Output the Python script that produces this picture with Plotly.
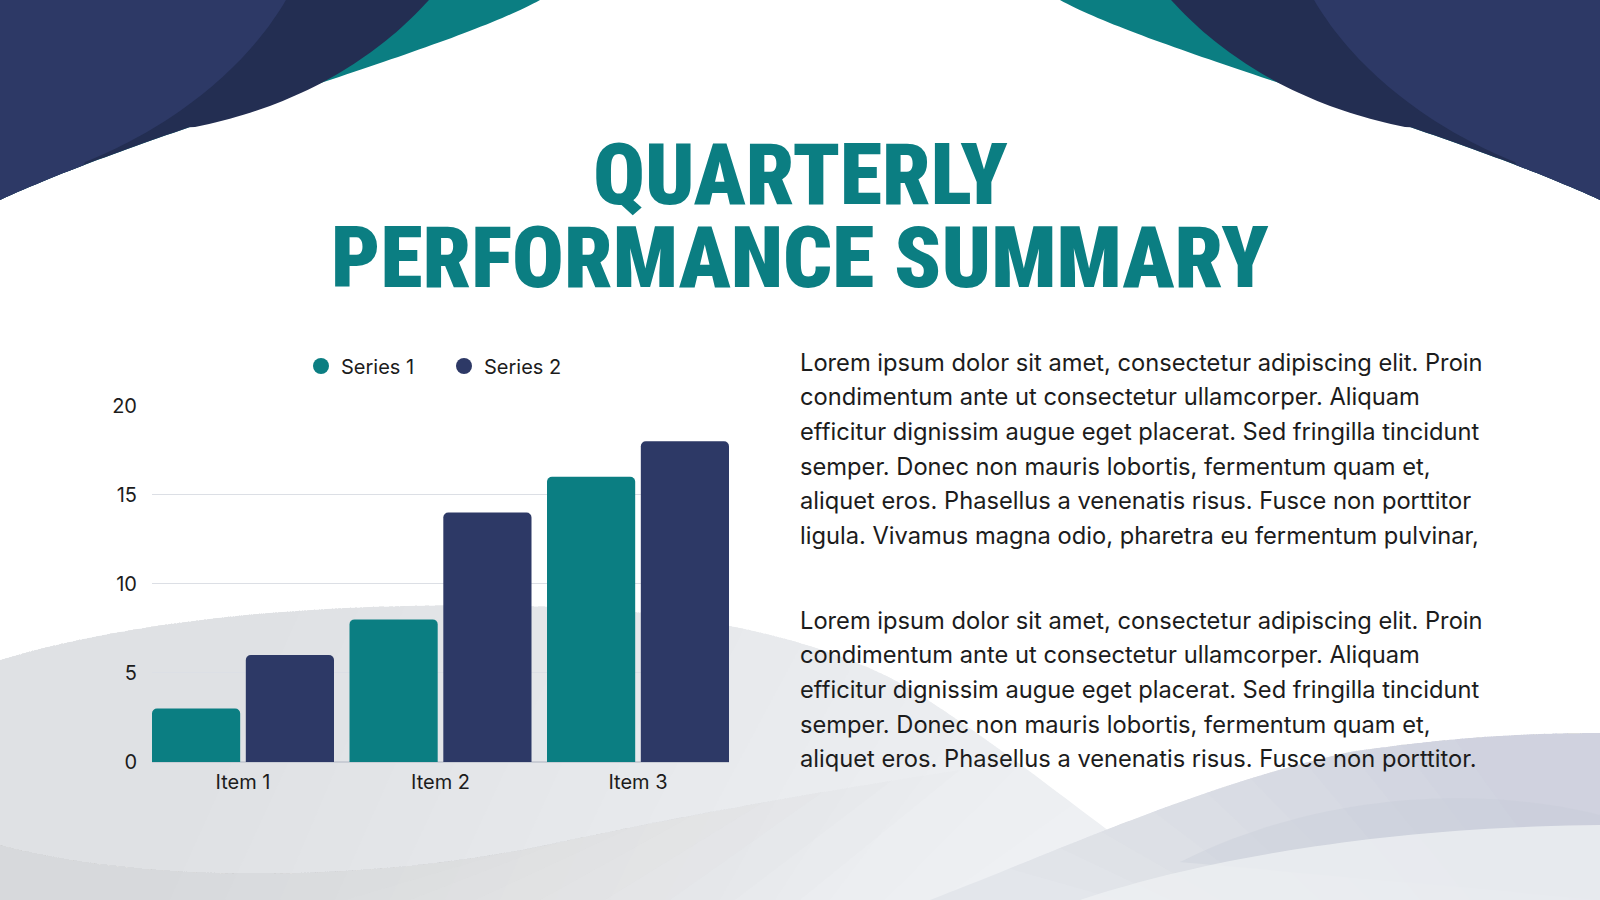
import plotly.graph_objects as go

# Chart data
items = ['Item 1', 'Item 2', 'Item 3']
series_1 = [3, 8, 16]
series_2 = [6, 14, 18]
series_names = ['Series 1', 'Series 2']
y_ticks = [0, 5, 10, 15, 20]

title_lines = ['QUARTERLY', 'PERFORMANCE SUMMARY']
paragraph_1 = [
    'Lorem ipsum dolor sit amet, consectetur adipiscing elit. Proin',
    'condimentum ante ut consectetur ullamcorper. Aliquam',
    'efficitur dignissim augue eget placerat. Sed fringilla tincidunt',
    'semper. Donec non mauris lobortis, fermentum quam et,',
    'aliquet eros. Phasellus a venenatis risus. Fusce non porttitor',
    'ligula. Vivamus magna odio, pharetra eu fermentum pulvinar,',
]
paragraph_2 = [
    'Lorem ipsum dolor sit amet, consectetur adipiscing elit. Proin',
    'condimentum ante ut consectetur ullamcorper. Aliquam',
    'efficitur dignissim augue eget placerat. Sed fringilla tincidunt',
    'semper. Donec non mauris lobortis, fermentum quam et,',
    'aliquet eros. Phasellus a venenatis risus. Fusce non porttitor.',
]

W, H = 1600, 900
TEAL = '#0B7E82'
NAVY = '#2D3966'
DARK_NAVY = '#232E52'
TEXT = '#1C1C1C'
FONT = 'Inter, Roboto, sans-serif'
TITLE_FONT = 'Roboto Condensed, Liberation Sans Narrow, DejaVu Sans Condensed, sans-serif'


def to_paper(x, y):
    return f'{x / W:.4f},{1 - y / H:.4f}'


def poly_shape(pts, color, opacity=1.0, mirror=False):
    # closed polygon given in pixel space (origin top-left)
    if mirror:
        pts = [(W - x, y) for x, y in pts]
    path = 'M ' + ' L '.join(to_paper(x, y) for x, y in pts) + ' Z'
    return dict(type='path', xref='paper', yref='paper', layer='below',
                path=path, fillcolor=color, opacity=opacity, line=dict(width=0))


def bezier(p, t):
    (x0, y0), (x1, y1), (x2, y2), (x3, y3) = p
    a, b, c, d = (1 - t) ** 3, 3 * t * (1 - t) ** 2, 3 * t * t * (1 - t), t ** 3
    return a * x0 + b * x1 + c * x2 + d * x3, a * y0 + b * y1 + c * y2 + d * y3


def curve(segments, n=40):
    pts = []
    for seg in segments:
        start = 0 if not pts else 1
        pts += [bezier(seg, i / n) for i in range(start, n + 1)]
    return pts


# ---- top corner drapes (left side, mirrored for the right side)
edge = curve([((540, 0), (450, 50), (150, 130), (0, 200))], 80)
dark_top = curve([((429, 0), (370, 65), (290, 108), (195, 127))])
light_top = curve([((286, 0), (245, 70), (170, 128), (85, 162))])
teal_drape = [(0, 0)] + edge
dark_drape = [(0, 0)] + dark_top + [p for p in edge if p[0] < 195]
light_drape = [(0, 0)] + light_top + [p for p in edge if p[0] < 85]

# ---- bottom waves
wave_top = curve([((0, 660), (150, 615), (350, 600), (560, 607)),
                  ((560, 607), (700, 612), (820, 640), (900, 683)),
                  ((900, 683), (980, 730), (1080, 810), (1200, 900))])
band_top = curve([((0, 845), (150, 885), (380, 882), (560, 842)),
                  ((560, 842), (700, 812), (830, 790), (960, 770))])
hill_top = curve([((930, 900), (1060, 850), (1200, 785), (1350, 752)),
                  ((1350, 752), (1450, 737), (1530, 733), (1600, 733))])
stripe_top = curve([((1180, 862), (1320, 792), (1480, 785), (1600, 815))])
band2_top = curve([((1080, 900), (1200, 860), (1380, 827), (1600, 825))])

shapes = [poly_shape(wave_top + [(0, 900)], '#EEF0F3')]
# darker towards the left: many faint stacked layers give a soft gradient
for xc in range(1080, 300, -55):
    pts = [p for p in wave_top if p[0] <= xc]
    shapes.append(poly_shape(pts + [(xc - 140, 900), (0, 900)], '#C5CAD6', 0.022))
for xc in range(960, 440, -65):
    pts = [p for p in band_top if p[0] <= xc]
    shapes.append(poly_shape(pts + [(xc - 160, 900), (0, 900)], '#C5CAD6', 0.04))
shapes.append(poly_shape(hill_top + [(1600, 900)], '#E3E6EB'))
for xc in range(1000, 1460, 50):
    pts = [p for p in hill_top if p[0] >= xc]
    shapes.append(poly_shape(pts + [(1600, 900), (xc + 120, 900)], '#BFC5D1', 0.045))
shapes.append(poly_shape(stripe_top + [(1600, 900)], '#C5CAD6', 0.35))
shapes.append(poly_shape(band2_top + [(1600, 900)], '#EEF0F3', 0.8))

for mirror in (False, True):
    shapes += [poly_shape(teal_drape, TEAL, mirror=mirror),
               poly_shape(dark_drape, DARK_NAVY, mirror=mirror),
               poly_shape(light_drape, NAVY, mirror=mirror)]

fig = go.Figure()
for name, vals, color in zip(series_names, [series_1, series_2], [TEAL, NAVY]):
    fig.add_trace(go.Bar(x=items, y=vals, name=name, marker_color=color,
                         marker_line_width=0, marker_cornerradius=5,
                         showlegend=False))
    # legend entry with a round swatch
    fig.add_trace(go.Scatter(x=[None], y=[None], mode='markers', name=name,
                             marker=dict(color=color, size=22, symbol='circle')))

bargap, bargroupgap = 0.05, 0.06
inset = bargap / 2 + (1 - bargap) / 2 * bargroupgap / 2
fig.update_layout(
    width=W, height=H,
    margin=dict(l=0, r=0, t=0, b=0, autoexpand=False),
    paper_bgcolor='white',
    plot_bgcolor='rgba(0,0,0,0)',
    barmode='group', bargap=bargap, bargroupgap=bargroupgap,
    font=dict(family=FONT, size=20, color=TEXT),
    shapes=shapes,
    legend=dict(orientation='h', x=444 / W, xanchor='center',
                y=1 - 366 / H, yanchor='middle', bgcolor='rgba(0,0,0,0)',
                font=dict(size=20, color=TEXT), itemwidth=30,
                entrywidth=98, entrywidthmode='pixels'),
    xaxis=dict(domain=[152 / W, 729 / W],
               range=[-0.5 + inset, 2.5 - inset],
               showgrid=False, ticks='', ticklabelstandoff=6,
               tickfont=dict(size=20, color=TEXT)),
    yaxis=dict(domain=[1 - 762 / H, 1 - 405 / H], range=[0, 20.03],
               tickvals=y_ticks, showgrid=True, gridcolor='#DCDFE5',
               gridwidth=1, zeroline=True, zerolinecolor='#C9CDD5',
               zerolinewidth=2, ticks='', ticklabelstandoff=14,
               tickfont=dict(size=20, color=TEXT)),
)

annotations = []
for line, yc in zip(title_lines, [174, 257]):
    annotations.append(dict(text=line, x=0.5, y=1 - yc / H,
                            xref='paper', yref='paper', xanchor='center',
                            yanchor='middle', showarrow=False,
                            font=dict(family=TITLE_FONT, size=86, weight=900,
                                      color=TEAL)))
line_step = 34.7
for lines, y0 in [(paragraph_1, 362), (paragraph_2, 620)]:
    for i, line in enumerate(lines):
        annotations.append(dict(text=line, x=798 / W, y=1 - (y0 + i * line_step) / H,
                                xref='paper', yref='paper', xanchor='left',
                                yanchor='middle', showarrow=False,
                                font=dict(family=FONT, size=23.7, color=TEXT)))
fig.update_layout(annotations=annotations)

# pin the figure to the top-left corner of the page
pin = ("var gd=document.getElementById('{plot_id}');"
       "gd.style.position='fixed';gd.style.top='0';gd.style.left='0';"
       "document.body.style.margin='0';")
fig.write_html('out.html', config={'displayModeBar': False}, post_script=pin)
